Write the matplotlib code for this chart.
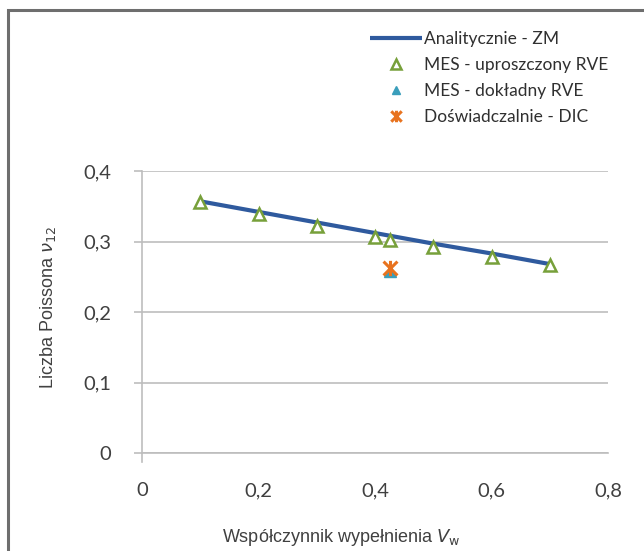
import matplotlib.pyplot as plt
from matplotlib.path import Path
from matplotlib.patches import Rectangle

# współczynnik wypełnienia i liczba Poissona
vw_analityczne = [0.1, 0.2, 0.3, 0.4, 0.5, 0.6, 0.7]
nu_analityczne = [0.357, 0.342, 0.327, 0.312, 0.297, 0.283, 0.268]

vw_upr = [0.1, 0.2, 0.3, 0.4, 0.425, 0.5, 0.6, 0.7]
nu_upr = [0.356, 0.339, 0.322, 0.306, 0.302, 0.292, 0.278, 0.266]

vw_dokl = [0.425]
nu_dokl = [0.258]

vw_dic = [0.425]
nu_dic = [0.263]

x_ticks = [0, 0.2, 0.4, 0.6, 0.8]
y_ticks = [0, 0.1, 0.2, 0.3, 0.4]

def przecinek(v):
    return ('%g' % v).replace('.', ',')

# gwiazdka jak w Excelu: X + pionowa kreska
gwiazdka = Path([(-1, -1), (1, 1), (-1, 1), (1, -1), (0, -1.1), (0, 1.1)],
                [Path.MOVETO, Path.LINETO, Path.MOVETO, Path.LINETO, Path.MOVETO, Path.LINETO])

fig = plt.figure(figsize=(6.44, 5.51), dpi=100)
ax = fig.add_axes([142 / 644, 1 - 453 / 551, 466 / 644, 282 / 551])

ax.plot(vw_analityczne, nu_analityczne, color='#2F5A9E', lw=3.0, zorder=3,
        label='Analitycznie - ZM', solid_capstyle='butt')
ax.plot(vw_upr, nu_upr, ls='none', marker='^', ms=9, mfc='white', mec='#77A03A',
        mew=1.8, zorder=4, label='MES - uproszczony RVE')
ax.plot(vw_dokl, nu_dokl, ls='none', marker='^', ms=8, color='#3A9EBB', zorder=5,
        label='MES - dokładny RVE')
ax.plot(vw_dic, nu_dic, ls='none', marker=gwiazdka, ms=11, mec='#E8731F', mew=2.2,
        zorder=6, label='Doświadczalnie - DIC')

ax.set_xlim(0, 0.8)
ax.set_ylim(0, 0.4)
ax.set_xticks(x_ticks)
ax.set_yticks(y_ticks)
ax.set_xticklabels([przecinek(v) for v in x_ticks])
ax.set_yticklabels([przecinek(v) for v in y_ticks])
ax.grid(axis='y', color='#BDBDBD', lw=1.2)
ax.set_axisbelow(True)
for s in ['top', 'right']:
    ax.spines[s].set_visible(False)
ax.spines['left'].set_color('#BDBDBD')
ax.spines['bottom'].set_color('#BDBDBD')
ax.spines['left'].set_linewidth(1.2)
ax.spines['bottom'].set_linewidth(1.2)
ax.tick_params(axis='y', length=6, color='#BDBDBD', width=1.2, pad=16,
               labelsize=14.5, labelcolor='#404040')
ax.tick_params(axis='x', length=0, pad=21, labelsize=14.5, labelcolor='#404040')
for t in ax.get_xticklabels() + ax.get_yticklabels():
    t.set_fontfamily('Lato')
ax.plot([0, 0], [0, -0.013], color='#BDBDBD', lw=1.2, clip_on=False)

fig.text(48 / 644, 1 - 308 / 551, r'Liczba Poissona $\nu_{12}$', rotation=90,
         ha='center', va='center', fontsize=13, color='#404040',
         family='Liberation Sans')
fig.text(341 / 644, 1 - 538 / 551, r'Współczynnik wypełnienia $V_{\mathrm{w}}$',
         ha='center', va='center', fontsize=13, color='#404040',
         family='Liberation Sans')

leg = fig.legend(loc='upper left', bbox_to_anchor=(354 / 644, 1 - 15 / 551),
                 frameon=False, handlelength=3.0, handletextpad=0.15,
                 labelspacing=0.58, markerscale=0.75,
                 prop={'family': 'Lato', 'size': 12.5})
for t in leg.get_texts():
    t.set_color('#303030')

# ramka wykresu (widoczna góra i lewa krawędź)
fig.patches.append(Rectangle((7.5 / 644, -0.05), 1.2, 1 - 10 / 551 + 0.05,
                             transform=fig.transFigure, fill=False,
                             edgecolor='#6E6E6E', lw=2.2))

fig.savefig('out.png', dpi=100)
